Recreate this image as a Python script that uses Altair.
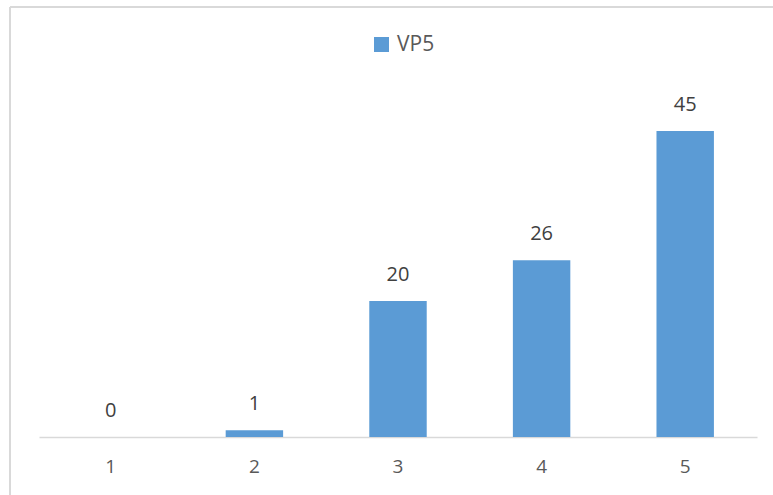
import altair as alt
import pandas as pd

categories = ["1", "2", "3", "4", "5"]
values = [0, 1, 20, 26, 45]
series = ["VP5"] * len(categories)

df = pd.DataFrame({"cat": categories, "val": values, "series": series})

FONT = "Open Sans"
BAR = "#5b9bd5"
FRAME = "#d9d9d9"

base = alt.Chart(df)

bars = base.mark_bar(color=BAR).encode(
    x=alt.X(
        "cat:O",
        sort=categories,
        scale=alt.Scale(paddingInner=0.6, paddingOuter=0.3),
        axis=alt.Axis(
            title=None,
            labelAngle=0,
            ticks=False,
            domainColor=FRAME,
            domainWidth=1.5,
            labelFont=FONT,
            labelFontSize=19,
            labelColor="#595959",
            labelPadding=20,
        ),
    ),
    y=alt.Y(
        "val:Q",
        scale=alt.Scale(domain=[0, 50], nice=False),
        axis=None,
    ),
    color=alt.Color(
        "series:N",
        scale=alt.Scale(range=[BAR]),
        legend=alt.Legend(
            title=None,
            orient="none",
            legendX=332,
            legendY=-63,
            symbolType="square",
            symbolSize=225,
            symbolStrokeWidth=0,
            labelFont=FONT,
            labelFontSize=21,
            labelColor="#595959",
            labelOffset=5,
        ),
    ),
)

labels = base.mark_text(
    font=FONT, fontSize=20, color="#404040", baseline="middle", dy=-26
).encode(
    x=alt.X("cat:O", sort=categories),
    y="val:Q",
    text="val:Q",
)

# light frame around the chart
frame_left = base.mark_rule(color=FRAME, strokeWidth=2).encode(
    x=alt.value(-29), y=alt.value(-90), y2=alt.value(420)
)
frame_top = base.mark_rule(color=FRAME, strokeWidth=2).encode(
    x=alt.value(-29), x2=alt.value(760), y=alt.value(-90)
)

chart = (
    alt.layer(frame_left, frame_top, bars, labels)
    .properties(
        width=718,
        height=340,
        autosize=alt.AutoSizeParams(type="none"),
        padding={"left": 39, "top": 97, "right": 16, "bottom": 58},
        background="white",
    )
    .configure_view(stroke=None)
)

chart.save("out.html", embed_options={"renderer": "svg", "actions": False})
